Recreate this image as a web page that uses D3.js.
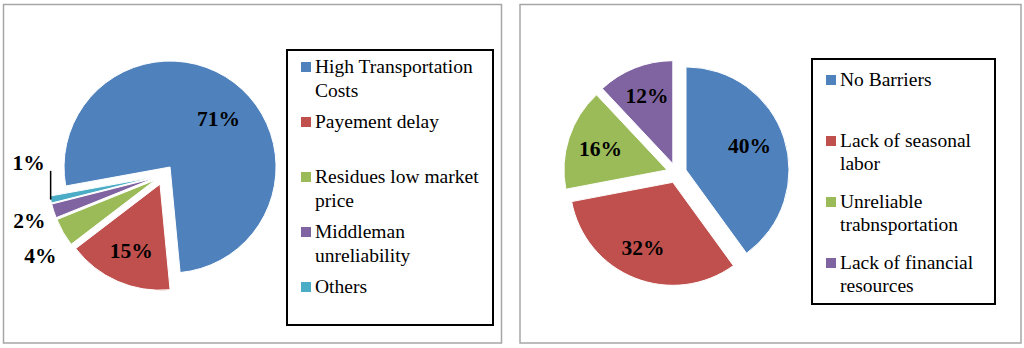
<!DOCTYPE html>
<html>
<head>
<meta charset="utf-8">
<script src="https://cdn.jsdelivr.net/npm/d3@7"></script>
<style>
  body { margin: 0; background: #fff; }
  svg text { font-family: "Liberation Serif", "Times New Roman", serif; fill: #000; }
  .pct { font-weight: bold; font-size: 21.5px; }
  .leg { font-size: 19.5px; }
</style>
</head>
<body>
<div id="chart"></div>
<script>
// data
const leftCategories = [["High Transportation", "Costs"], ["Payement delay"], ["Residues low market", "price"], ["Middleman", "unreliability"], ["Others"]];
const leftValues = [71, 15, 4, 2, 1];
const rightCategories = [["No Barriers"], ["Lack of seasonal", "labor"], ["Unreliable", "trabnsportation"], ["Lack of financial", "resources"]];
const rightValues = [40, 32, 16, 12];
const colors = ["#4F81BD", "#C0504D", "#9BBB59", "#8064A2", "#4BACC6"];

const width = 1024;
const height = 348;

const svg = d3.select("#chart")
    .append("svg")
    .attr("width", width)
    .attr("height", height);

svg.append("rect").attr("width", width).attr("height", height).attr("fill", "#fff");

// panel frames
svg.append("rect")
    .attr("x", 3.5).attr("y", 4.5).attr("width", 498).attr("height", 338.5)
    .attr("fill", "none").attr("stroke", "#a6a6a6").attr("stroke-width", 1.5);
svg.append("rect")
    .attr("x", 520).attr("y", 4.5).attr("width", 501).attr("height", 338.5)
    .attr("fill", "none").attr("stroke", "#a6a6a6").attr("stroke-width", 1.5);

function drawPie(opt) {
    const pie = d3.pie()
        .sort(null)
        .value(d => d)
        .startAngle(opt.start * Math.PI / 180)
        .endAngle(opt.start * Math.PI / 180 + 2 * Math.PI);

    const arc = d3.arc().innerRadius(0).outerRadius(opt.r);
    const arcs = pie(opt.values);

    const g = svg.append("g").attr("transform", "translate(" + opt.cx + "," + opt.cy + ")");

    function offset(d, k) {
        const a = (d.startAngle + d.endAngle) / 2;
        return [Math.sin(a) * k, -Math.cos(a) * k];
    }

    g.selectAll("path")
        .data(arcs)
        .enter()
        .append("path")
        .attr("d", arc)
        .attr("fill", (d, i) => colors[i])
        .attr("stroke", "#fff")
        .attr("stroke-width", 1)
        .attr("transform", d => "translate(" + offset(d, opt.explode) + ")");

    arcs.forEach(function(d, i) {
        const a = (d.startAngle + d.endAngle) / 2;
        const o = offset(d, opt.explode);
        const inside = opt.outside.indexOf(i) < 0;
        const k = inside ? opt.r * 0.68 : opt.r * 1.28;
        let x = o[0] + Math.sin(a) * k;
        let y = o[1] - Math.cos(a) * k;
        const nudge = opt.nudge[i];
        if (nudge) {
            x += nudge[0];
            y += nudge[1];
        }
        const shift = opt.shift[i];
        if (shift) {
            x += shift[0];
            y += shift[1];
            // leader line from slice edge up to moved label
            const ex = o[0] + Math.sin(a) * opt.r;
            const ey = o[1] - Math.cos(a) * opt.r;
            g.append("line")
                .attr("x1", ex).attr("y1", ey)
                .attr("x2", ex).attr("y2", y + 8)
                .attr("stroke", "#000").attr("stroke-width", 1.5);
        }
        g.append("text")
            .attr("class", "pct")
            .attr("x", x)
            .attr("y", y)
            .attr("dy", "0.35em")
            .attr("text-anchor", "middle")
            .text(opt.values[i] + "%");
    });
}

function drawLegend(opt) {
    svg.append("rect")
        .attr("x", opt.x).attr("y", opt.y).attr("width", opt.w).attr("height", opt.h)
        .attr("fill", "#fff").attr("stroke", "#000").attr("stroke-width", 2);

    opt.items.forEach(function(lines, i) {
        const base = opt.first + i * opt.step;
        svg.append("rect")
            .attr("x", opt.x + 14).attr("y", base - 11)
            .attr("width", 10).attr("height", 10)
            .attr("fill", colors[i]);
        const t = svg.append("text").attr("class", "leg").attr("x", opt.x + 28).attr("y", base);
        lines.forEach(function(line, j) {
            t.append("tspan").attr("x", opt.x + 28).attr("y", base + j * opt.lineH).text(line);
        });
    });
}

drawPie({ values: leftValues, cx: 164, cy: 175, r: 106, explode: 10, start: -100.3,
          outside: [2, 3, 4], nudge: { 0: [5, 9], 2: [3, 8], 3: [4, 0] }, shift: { 4: [7, -43] } });
drawLegend({ items: leftCategories, x: 287, y: 50, w: 206, h: 275, first: 73, step: 55, lineH: 24 });

drawPie({ values: rightValues, cx: 676.5, cy: 173, r: 103, explode: 10, start: 0,
          outside: [], nudge: { 0: [-3, -3], 1: [-4, 0], 3: [0, -3] }, shift: {} });
drawLegend({ items: rightCategories, x: 812, y: 59, w: 183, h: 245, first: 86, step: 61, lineH: 23 });
</script>
</body>
</html>
